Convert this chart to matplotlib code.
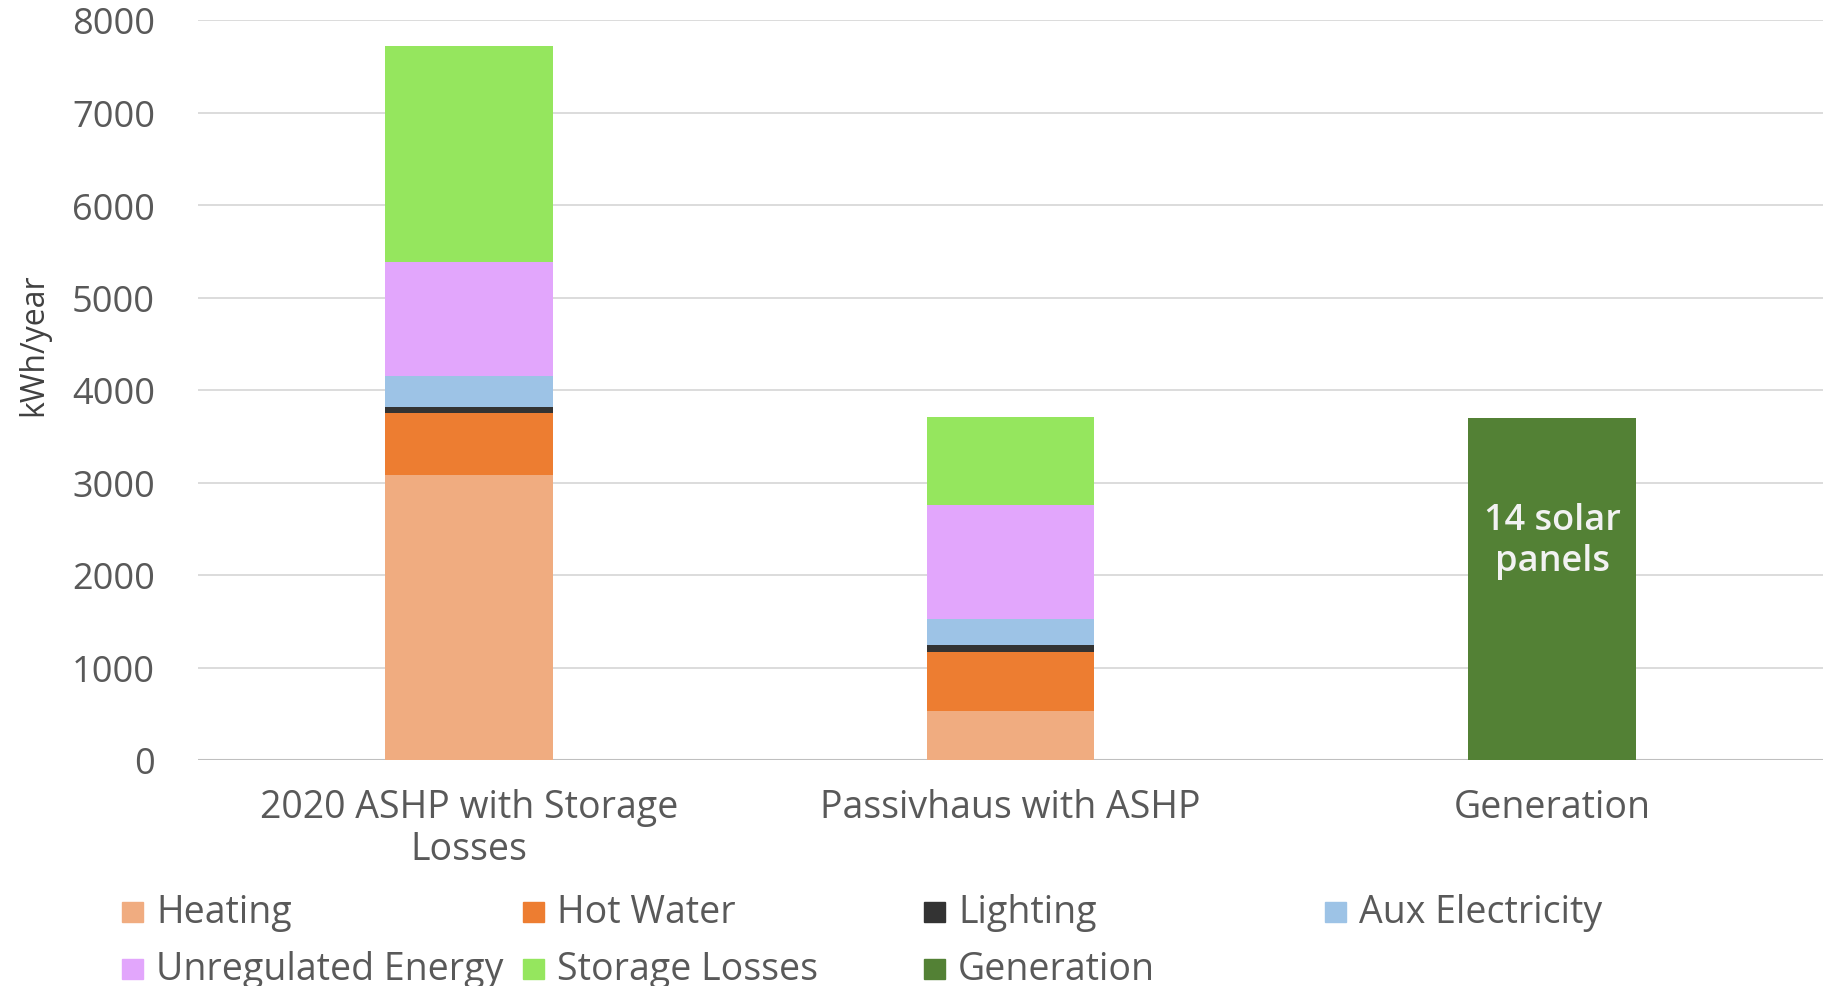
import matplotlib
matplotlib.use("Agg")
import matplotlib.pyplot as plt
from matplotlib.patches import Rectangle
import numpy as np

# ---------------------------------------------------------
# Data (kWh/year)
# ---------------------------------------------------------
categories = ["2020 ASHP with Storage\nLosses", "Passivhaus with ASHP", "Generation"]
series_names = ["Heating", "Hot Water", "Lighting", "Aux Electricity",
                "Unregulated Energy", "Storage Losses", "Generation"]
heating = [3080, 533, 0]
hot_water = [670, 638, 0]
lighting = [63, 70, 0]
aux_electricity = [335, 281, 0]
unregulated = [1233, 1233, 0]
storage_losses = [2335, 948, 0]
generation = [0, 0, 3700]
yticks = [0, 1000, 2000, 3000, 4000, 5000, 6000, 7000, 8000]
bar_note = "14 solar\npanels"

series_values = [heating, hot_water, lighting, aux_electricity,
                 unregulated, storage_losses, generation]
colors = ["#F0AC80", "#ED7D31", "#333333", "#9DC3E6",
          "#E2A6FC", "#95E65E", "#538135"]

plt.rcParams['font.family'] = ['Open Sans', 'DejaVu Sans']

# ---------------------------------------------------------
# Figure / axes
# ---------------------------------------------------------
W, H = 1823, 987
fig = plt.figure(figsize=(W / 100, H / 100), dpi=100)
ax = fig.add_axes([198 / W, 1 - 761 / H, (W - 198) / W, 740 / H])

x = np.arange(len(categories))
bottom = np.zeros(len(categories))
for vals, col, name in zip(series_values, colors, series_names):
    ax.bar(x, vals, width=0.31, bottom=bottom, color=col, label=name, zorder=3)
    bottom += np.array(vals)

ax.set_xlim(-0.5, 2.5)
ax.set_ylim(0, 8000)
ax.set_yticks(yticks)
ax.set_yticklabels([str(v) for v in yticks])
ax.yaxis.grid(True, color="#D9D9D9", linewidth=1.3, zorder=0)
ax.axhline(0, color="#BFBFBF", linewidth=1.5, zorder=2)
for s in ax.spines.values():
    s.set_visible(False)

ax.tick_params(axis="y", length=0, pad=31, labelsize=26, labelcolor="#595959")
ax.set_xticks(x)
ax.set_xticklabels(categories, linespacing=1.15)
ax.tick_params(axis="x", length=0, pad=20, labelsize=27, labelcolor="#595959")

ax.set_ylabel("kWh/year", fontsize=23, color="#404040")
ax.yaxis.set_label_coords(-0.091, 0.562)

# note inside the generation bar
ax.text(x[2], 2370, bar_note, ha="center", va="center", color="#F2F2F2",
        fontsize=26, fontweight=600, linespacing=1.2, zorder=4)

# ---------------------------------------------------------
# Legend (laid out by hand, 4 per row)
# ---------------------------------------------------------
col_x = [122, 523, 924, 1325]
row_y = [913, 970]
for i, (name, col) in enumerate(zip(series_names, colors)):
    cx = col_x[i % 4]
    cy = row_y[i // 4]
    fig.patches.append(Rectangle((cx / W, 1 - (cy + 10) / H), 21 / W, 20 / H,
                                 transform=fig.transFigure, color=col))
    fig.text((cx + 34) / W, 1 - cy / H, name, ha="left", va="center",
             fontsize=27, color="#595959")

fig.savefig("out.png", dpi=100)
